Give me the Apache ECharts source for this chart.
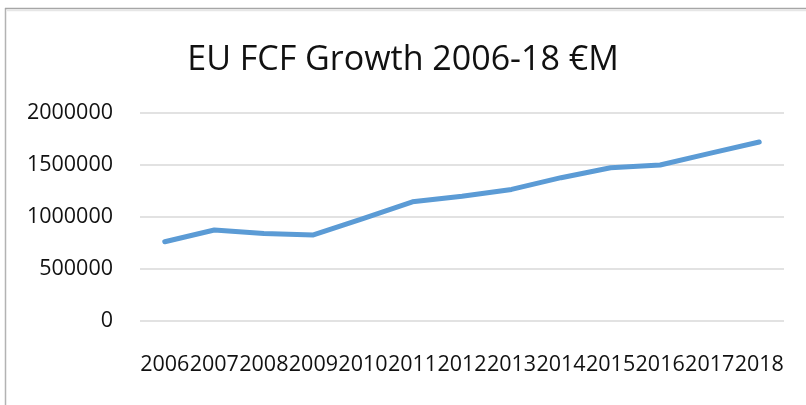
<!DOCTYPE html>
<html>
<head>
<meta charset="utf-8">
<script src="https://cdn.jsdelivr.net/npm/echarts@6/dist/echarts.min.js"></script>
<style>
  html, body { margin: 0; padding: 0; background: #fff; }
  #chart { width: 806px; height: 405px; }
</style>
</head>
<body>
<div id="chart"></div>
<script>
// EU free cash flow by year, € millions
const years = ['2006', '2007', '2008', '2009', '2010', '2011', '2012', '2013', '2014', '2015', '2016', '2017', '2018'];
const fcfValues = [762000, 875000, 842000, 827000, 985000, 1146000, 1200000, 1265000, 1378000, 1474000, 1500000, 1612000, 1721000];
const yTicks = [0, 500000, 1000000, 1500000, 2000000];

const chart = echarts.init(document.getElementById('chart'), null, { renderer: 'canvas' });
const textColor = '#111111';
const fontFamily = '"Open Sans", "Noto Sans", sans-serif';

chart.setOption({
  animation: false,
  backgroundColor: '#ffffff',
  title: {
    text: 'EU FCF Growth 2006-18 €M',
    left: 'center',
    top: 38,
    textStyle: { fontFamily, fontSize: 34, fontWeight: 'normal', color: textColor }
  },
  grid: { left: 140, right: 22, top: 113, bottom: 84, containLabel: false },
  xAxis: {
    type: 'category',
    data: years,
    boundaryGap: true,
    axisLine: { show: false },
    axisTick: { show: false },
    axisLabel: { interval: 0, margin: 33, fontFamily, fontSize: 21.5, color: textColor }
  },
  yAxis: {
    type: 'value',
    min: yTicks[0],
    max: yTicks[yTicks.length - 1],
    interval: yTicks[1] - yTicks[0],
    axisLine: { show: false },
    axisTick: { show: false },
    axisLabel: {
      margin: 27, fontFamily, fontSize: 21.5, color: textColor,
      padding: [7, 0, 0, 0],
      formatter: (v) => String(v)
    },
    splitLine: { lineStyle: { color: '#d9d9d9', width: 1.5 } }
  },
  series: [{
    type: 'line',
    data: fcfValues,
    showSymbol: false,
    symbol: 'none',
    lineStyle: { color: '#5b9bd5', width: 5, cap: 'round', join: 'round' }
  }],
  graphic: [
    { type: 'line', shape: { x1: 5.5, y1: 8, x2: 5.5, y2: 405 }, style: { stroke: '#b3b3b3', lineWidth: 1.5 } },
    { type: 'line', shape: { x1: 5, y1: 8.5, x2: 806, y2: 8.5 }, style: { stroke: '#a6a6a6', lineWidth: 1.5 } },
    { type: 'line', shape: { x1: 7, y1: 10.5, x2: 806, y2: 10.5 }, style: { stroke: '#e6e6e6', lineWidth: 1.5 } }
  ]
});
</script>
</body>
</html>
